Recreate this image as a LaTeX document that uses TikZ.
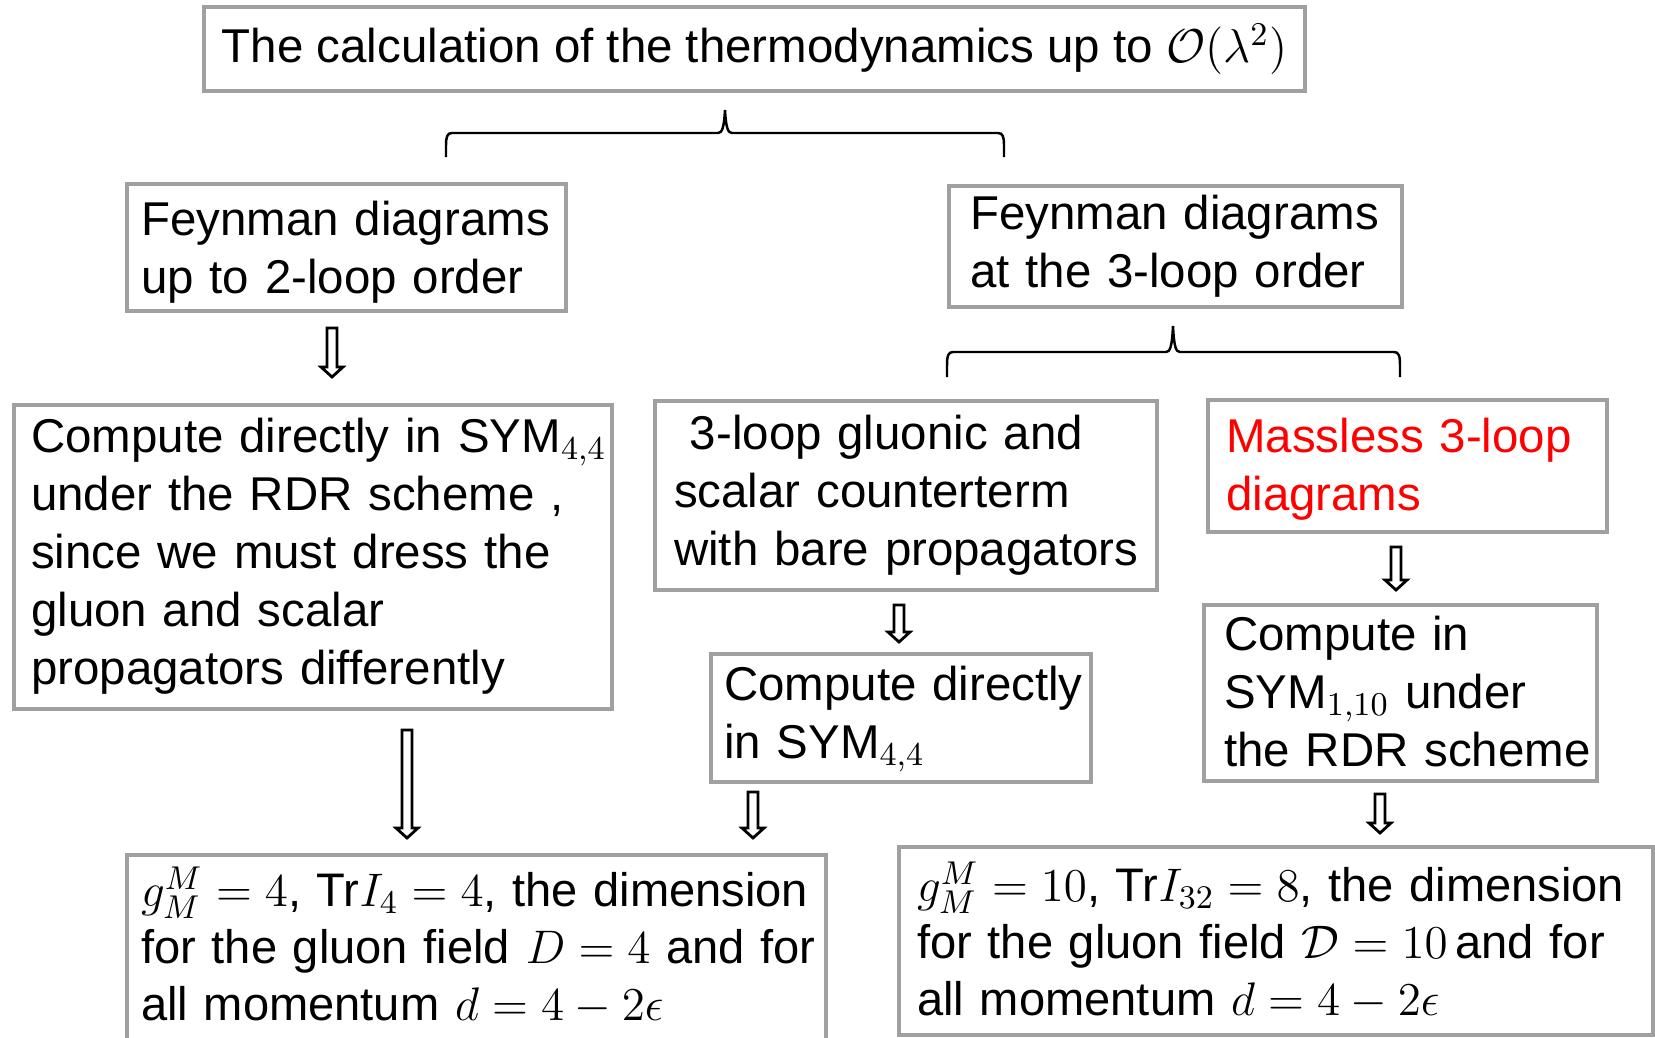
\RequirePackage{fix-cm}
\documentclass[tikz,border=0pt]{standalone}
\usepackage[no-math]{fontspec}
\setmainfont{Liberation Sans}
\usepackage{xcolor}
\usepackage{tikz}
\usetikzlibrary{calc}
\definecolor{framegray}{RGB}{160,160,160}
\newcommand{\boxlines}[1]{\begin{tabular}{@{}l@{}}#1\end{tabular}}
% lowers the text a little inside its box
\newcommand{\nudge}[2]{\raisebox{-#1}[\height][\depth]{#2}}
% hollow down arrow: x, top, tip
\newcommand{\hollowdown}[3]{%
  \draw[hollow] (#1-5,#2) -- (#1+5,#2) -- (#1+5,#3-10) -- (#1+11,#3-10)
    -- (#1,#3) -- (#1-11,#3-10) -- (#1-5,#3-10) -- cycle;}
\tikzset{
  deck/.style={ font=\fontsize{13.5pt}{16.5pt}\selectfont },
  stepbox/.style={
    draw=framegray,
    line width=1.2pt,
    anchor=north west,
    align=left,
    inner ysep=0pt
  },
  setting/.style={
    stepbox,
    font=\fontsize{13.4pt}{16.2pt}\selectfont
  },
  hollow/.style={
    draw=black,
    fill=white,
    line width=0.8pt,
    line join=miter
  },
  bracket/.style={
    draw=black,
    line width=0.7pt
  }
}
\begin{document}
\begin{tikzpicture}[deck, x=0.1mm, y=-0.1mm]
  \useasboundingbox (0,0) rectangle (1655,1038);
  \node[draw=framegray, line width=1.2pt, minimum width=110.1mm,
    minimum height=8.4mm, inner sep=0pt] (title) at (754.5,49)
    {The calculation of the thermodynamics up to $\mathcal{O}(\lambda^{2})$};

  \node[stepbox, inner xsep=1.4mm, text width=41.1mm, minimum height=12.7mm]
    (twoloop) at (125,182)
    {\nudge{1.5pt}{\boxlines{Feynman diagrams\\up to 2-loop order}}};
  \node[stepbox, inner xsep=2.1mm, text width=41.1mm, minimum height=12.1mm]
    (threeloop) at (947,184) {\boxlines{Feynman diagrams\\at the 3-loop order}};

  \node[stepbox, inner xsep=1.7mm, text width=56.4mm, minimum height=30.4mm]
    (direct) at (12,403) {\boxlines{Compute directly in SYM$_{4,4}$\\
      under the RDR scheme ,\\since we must dress the\\gluon and scalar\\
      propagators differently}};
  \node[stepbox, inner xsep=1.9mm, text width=46.4mm, minimum height=18.9mm]
    (counter) at (653,399) {\boxlines{\ 3-loop gluonic and\\
      scalar counterterm\\with bare propagators}};
  \node[stepbox, inner xsep=1.8mm, text width=36.3mm, minimum height=13.2mm,
    text=red] (massless) at (1206,398)
    {\nudge{1pt}{\boxlines{Massless 3-loop\\diagrams}}};

  \node[stepbox, inner xsep=1.3mm, text width=35.4mm, minimum height=12.8mm]
    (sym44) at (709,652) {\boxlines{Compute directly\\in SYM$_{4,4}$}};
  \node[stepbox, inner xsep=2.0mm, text width=35.3mm, minimum height=17.6mm]
    (sym110) at (1202,603) {\nudge{1pt}{\boxlines{Compute in\\SYM$_{1,10}$ under\\
      the RDR scheme}}};

  \node[setting, inner xsep=1.4mm, text width=67.1mm, minimum height=19.4mm]
    (fourdim) at (125,853) {\boxlines{$g_{M}^{M}=4$, Tr$I_{4}=4$, the dimension\\
      for the gluon field $D=4$ and for\\all momentum $d=4-2\epsilon$}};
  \node[setting, inner xsep=1.8mm, text width=71.8mm, minimum height=18.8mm]
    (tendim) at (897,845) {\nudge{1.8pt}{\boxlines{$g_{M}^{M}=10$, Tr$I_{32}=8$, the dimension\\
      for the gluon field $\mathcal{D}=10$\,and for\\all momentum $d=4-2\epsilon$}}};

  % braces
  \draw[bracket] (446,157) -- (446,146) .. controls (446,137) and (447,133) .. (452,133)
    -- (718,133) .. controls (722,133) and (724,128) .. (725,110)
    .. controls (726,128) and (728,133) .. (732,133) -- (998,133)
    .. controls (1003,133) and (1004,137) .. (1004,146) -- (1004,157);
  \draw[bracket] (947,377) -- (947,366) .. controls (947,356) and (948,352) .. (953,352)
    -- (1166,352) .. controls (1170,352) and (1172,347) .. (1173,326)
    .. controls (1174,347) and (1176,352) .. (1180,352) -- (1394,352)
    .. controls (1399,352) and (1400,356) .. (1400,366) -- (1400,377);

  % arrows
  \hollowdown{332}{328}{377}
  \hollowdown{899}{605}{642}
  \hollowdown{1396}{547}{590}
  \hollowdown{407}{730}{838}
  \hollowdown{753}{792}{838}
  \hollowdown{1380}{794}{833}
\end{tikzpicture}
\end{document}
